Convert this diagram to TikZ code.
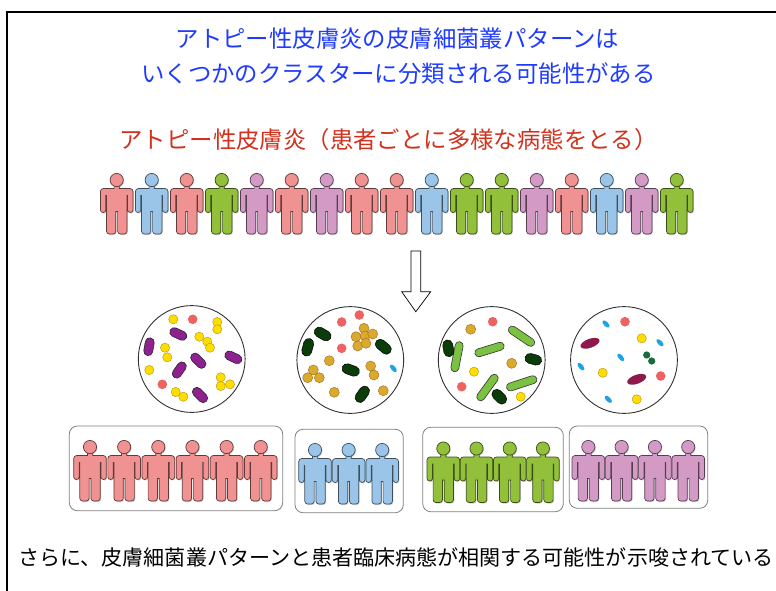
\documentclass[tikz,border=0pt]{standalone}
\usepackage{fontspec}
\newfontfamily\jpfont{Noto Sans CJK JP}
\definecolor{ppink}{HTML}{F09292}
\definecolor{pblue}{HTML}{9BC5E8}
\definecolor{pgreen}{HTML}{92C03A}
\definecolor{ppurple}{HTML}{D49AC6}
\definecolor{ttlblue}{HTML}{1F3BFF}
\definecolor{ttlred}{HTML}{D0321E}
\definecolor{cocY}{HTML}{FFDD00}
\definecolor{cocYd}{HTML}{B89A10}
\definecolor{cocR}{HTML}{EE6262}
\definecolor{cocG}{HTML}{DAAA2E}
\definecolor{cocGd}{HTML}{A86E20}
\definecolor{rodP}{HTML}{8E2090}
\definecolor{rodDG}{HTML}{0B3D0B}
\definecolor{rodLG}{HTML}{7BC142}
\definecolor{leafB}{HTML}{1CA3E6}
\definecolor{elM}{HTML}{8E1A4C}
\definecolor{dotG}{HTML}{1A6B3A}

% outline of a standing figure: origin at the top of the head, y pointing down
\def\bodypath{(-2.6,12) -- (-2.6,15.5) [rounded corners=3pt] -- (-16.3,15.5) [rounded corners=2.6pt] -- (-16.3,39.5) -- (-10.9,39.5) [sharp corners] -- (-10.9,22.5) -- (-10.2,22.5) [rounded corners=2.8pt] -- (-10.2,61) -- (-0.9,61) [sharp corners] -- (-0.9,38.5) -- (0.9,38.5) [rounded corners=2.8pt] -- (0.9,61) -- (10.2,61) [sharp corners] -- (10.2,22.5) -- (10.9,22.5) [rounded corners=2.6pt] -- (10.9,39.5) -- (16.3,39.5) [rounded corners=3pt] -- (16.3,15.5) [sharp corners] -- (2.6,15.5) -- (2.6,12) -- cycle}
\def\headpath{(0,7) circle[radius=6.6]}

\tikzset{
  person/.pic={
    \fill[black!40,opacity=.45,shift={(0.9,1)}] \bodypath;
    \fill[black!40,opacity=.45,shift={(0.9,1)}] \headpath;
    \path[fill=#1,draw=#1!40!black,line width=0.7pt] \bodypath;
    \path[fill=#1,draw=#1!40!black,line width=0.7pt] \headpath;
  },
  groupbox/.style={draw=black!50,line width=0.8pt,rounded corners=8pt},
  dish/.style={draw=black!80,line width=0.9pt,fill=white},
  ycoc/.style={fill=cocY,draw=cocYd,line width=0.45pt},
  rcoc/.style={fill=cocR},
  gcoc/.style={fill=cocG,draw=cocGd,line width=0.45pt},
  prod/.style={fill=rodP,draw=black!85,line width=0.6pt},
  dgrod/.style={fill=rodDG,draw=black,line width=0.5pt},
  lgrod/.style={fill=rodLG,draw=black!80,line width=0.6pt},
  bleaf/.style={fill=leafB},
  mell/.style={fill=elM},
  gdot/.style={fill=dotG},
  ttl/.style={font=\jpfont\fontsize{23.4}{28}\selectfont,inner sep=0pt},
}

% round cell: style, x, y, radius
\newcommand\cocc[4]{\path[#1] (#2,#3) circle[radius=#4];}
% rod cell: style, x, y, angle, half length, half width
\newcommand\bacrod[6]{\begin{scope}[shift={(#2,#3)},rotate=#4]\path[#1,rounded corners=#6pt] (-#5,-#6) rectangle (#5,#6);\end{scope}}
% oval cell: style, x, y, angle, x radius, y radius
\newcommand\bacell[6]{\begin{scope}[shift={(#2,#3)},rotate=#4]\path[#1] (0,0) ellipse[x radius=#5,y radius=#6];\end{scope}}

\begin{document}
\begin{tikzpicture}[x=1pt,y=-1pt]
\useasboundingbox (0,0) rectangle (776,590);
\clip (0,0) rectangle (776,590);

% frame
\draw[line width=1.4pt] (7,620) -- (7,12) -- (800,12);

% headings
\node[ttl,text=ttlblue] (t1) at (397.5,39) {アトピー性皮膚炎の皮膚細菌叢パターンは};
\node[ttl,text=ttlblue] (t2) at (398.5,74) {いくつかのクラスターに分類される可能性がある};
\node[ttl,text=ttlred] (t3) at (388.5,140) {アトピー性皮膚炎（患者ごとに多様な病態をとる）};

% all patients in one row
\foreach \c [count=\i from 0] in {ppink,pblue,ppink,pgreen,ppurple,ppink,ppurple,ppink,ppink,pblue,pgreen,pgreen,ppurple,ppink,pblue,ppurple,pgreen}
  {\pic at ({116.7+35*\i},173) {person=\c};}

% block arrow
\draw[line width=0.7pt,fill=white] (411,251) -- (420.7,251) -- (420.7,291.7) -- (430.7,291.7) -- (415.8,311.7) -- (401.7,291.7) -- (411,291.7) -- cycle;

% dishes
\path[dish] (191.7,359) circle[radius=53.4];
\path[dish] (350.3,360) circle[radius=53.4];
\path[dish] (491.7,360) circle[radius=53.4];
\path[dish] (624,360) circle[radius=53.4];

% dish 1
\foreach \x/\y in {173.3/319.3,217.3/322,217.3/329.3,199.3/336.7,207.3/341.7,210/347.7,165/347.7,167.3/357.3,149.3/370,220.7/377.3,220.7/386,230/384.3,175.7/392,183.3/396.7}
  {\cocc{ycoc}{\x}{\y}{4.6}}
\cocc{rcoc}{192.7}{319.3}{4.8}
\cocc{rcoc}{162.3}{384.3}{4.8}
\bacrod{prod}{178.3}{334}{-25}{9}{4.5}
\bacrod{prod}{149}{346.7}{80}{9}{4.5}
\bacrod{prod}{198.3}{360.7}{-45}{9}{4.5}
\bacrod{prod}{233.3}{357.3}{-25}{9}{4.5}
\bacrod{prod}{179.3}{370}{55}{9}{4.5}
\bacrod{prod}{200}{395}{-45}{9}{4.5}

% dish 2
\cocc{rcoc}{359.3}{315}{4.8}
\cocc{rcoc}{341.7}{322}{4.8}
\cocc{rcoc}{341.7}{348.3}{4.8}
\foreach \x/\y in {364/328.3,356/336.7,365/336,372.7/334,357.7/346,366/343.3,329.3/360.7,334.3/392.3,383.3/390.7,370.7/366,374/375,313.3/370,307.7/377.7,319.3/377.7}
  {\cocc{gcoc}{\x}{\y}{5}}
\bacrod{dgrod}{322.7}{334}{-30}{9}{5}
\bacrod{dgrod}{307.7}{347.3}{75}{9}{5}
\bacrod{dgrod}{383.3}{346.7}{-40}{9}{5}
\bacrod{dgrod}{350.7}{370}{-20}{9}{5}
\bacrod{dgrod}{362.3}{394.3}{55}{9}{5}
\bacell{bleaf}{393.3}{368.3}{-50}{4.6}{2.3}

% dish 3
\cocc{rcoc}{492.7}{321.7}{4.8}
\cocc{rcoc}{461.7}{386.7}{4.8}
\cocc{gcoc}{470.7}{329.3}{5}
\cocc{gcoc}{511.7}{363.3}{5}
\cocc{ycoc}{474}{371.7}{4.6}
\cocc{ycoc}{520.7}{396.7}{4.6}
\bacrod{lgrod}{521.5}{336.2}{-34}{15.1}{4}
\bacrod{lgrod}{457}{356.7}{79}{15.3}{4}
\bacrod{lgrod}{489.5}{349.5}{17}{15.2}{4}
\bacrod{lgrod}{487.5}{387.5}{54}{15.5}{4}
\bacrod{lgrod}{521.7}{383.3}{18}{15.8}{4}
\bacrod{dgrod}{448.3}{348.3}{100}{8.5}{5}
\bacrod{dgrod}{533.3}{359.3}{-15}{8.5}{5}
\bacrod{dgrod}{499.3}{396.7}{-45}{8.5}{5}

% dish 4
\foreach \x/\y/\a in {606/324/-45,660/342.7/-45,620.7/357.3/-50,581/366.7/-50,608.3/399.3/-45}
  {\bacell{bleaf}{\x}{\y}{\a}{4.6}{2.3}}
\cocc{rcoc}{625}{321.7}{4.8}
\cocc{rcoc}{660.7}{376}{4.8}
\cocc{ycoc}{641.7}{338.3}{4.6}
\cocc{ycoc}{602.7}{372.7}{4.6}
\cocc{ycoc}{636.7}{399.3}{4.6}
\bacell{mell}{590}{343.3}{20}{10}{4.5}
\bacell{mell}{636.7}{379.3}{20}{10}{4.5}
\cocc{gdot}{646.7}{355}{3.6}
\cocc{gdot}{651.7}{361}{3.6}

% patient groups
\draw[groupbox] (69.3,426) rectangle (282.7,510.7);
\foreach \i in {0,...,5} {\pic at ({90+34.15*\i},440) {person=ppink};}
\draw[groupbox] (295,429.3) rectangle (403.3,512.7);
\foreach \i in {0,1,2} {\pic at ({315+33.6*\i},443) {person=pblue};}
\draw[groupbox] (422.7,427.3) rectangle (563.3,511.7);
\foreach \i in {0,...,3} {\pic at ({443.3+33.2*\i},441.5) {person=pgreen};}
\draw[groupbox] (569.3,426) rectangle (707.7,508.3);
\foreach \i in {0,...,3} {\pic at ({588.3+33.3*\i},440) {person=ppurple};}

% conclusion
\node[font=\jpfont\fontsize{21.05}{26}\selectfont,inner sep=0pt] (t4) at (396,557) {さらに、皮膚細菌叢パターンと患者臨床病態が相関する可能性が示唆されている};
\end{tikzpicture}
\end{document}
